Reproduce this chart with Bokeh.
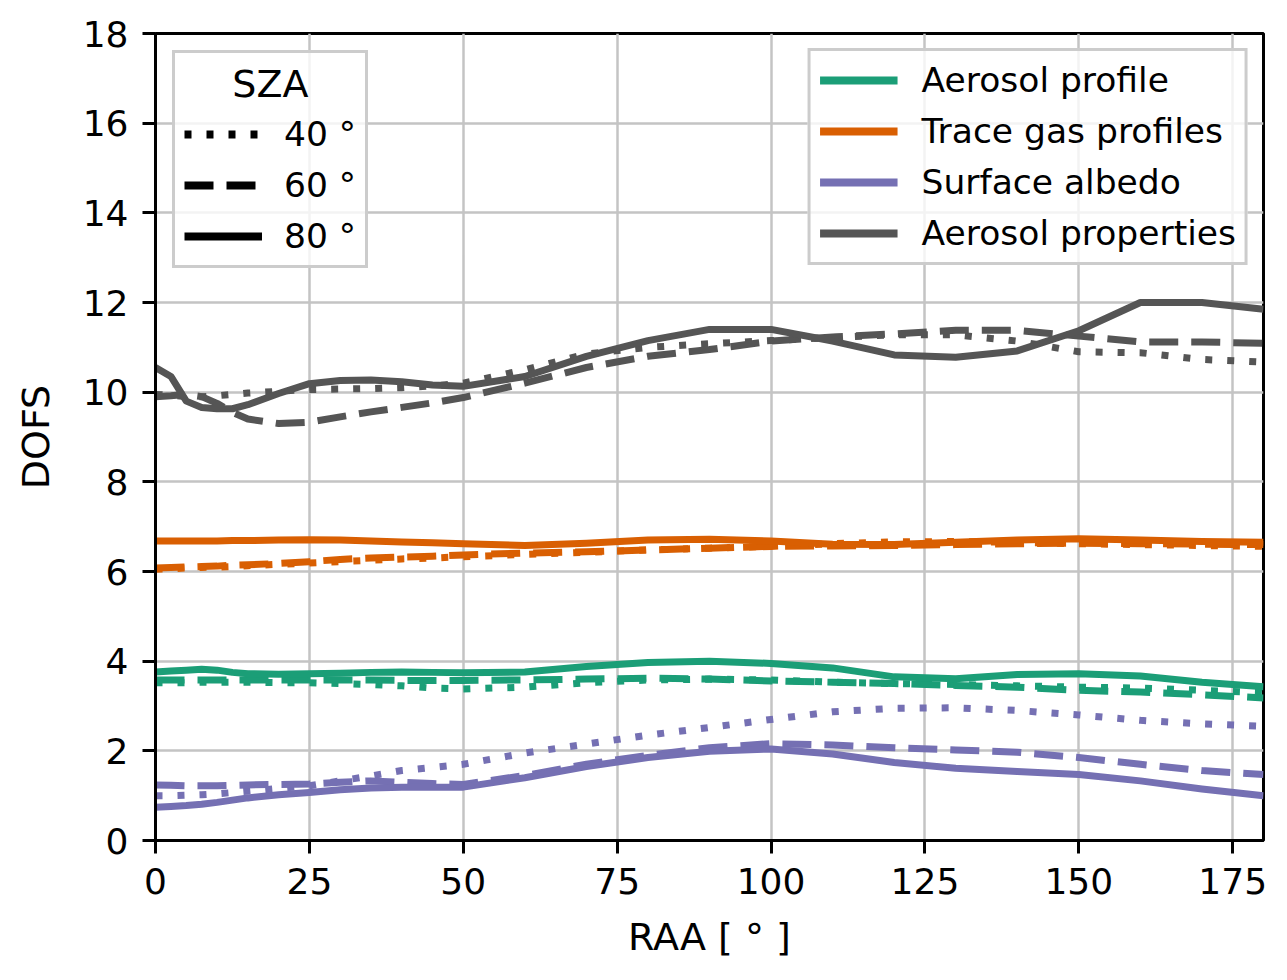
from bokeh.plotting import figure
from bokeh.models import Legend, LegendItem, FixedTicker, Range1d
from bokeh.embed import file_html
from bokeh.resources import INLINE

# relative azimuth angle [deg]
raa = [0, 2.5, 5, 7.5, 10, 12.5, 15, 20, 25, 30, 35, 40, 45, 50, 60, 70, 80,
       90, 100, 110, 120, 130, 140, 150, 160, 170, 180]

# DOFS per retrieved quantity, one list per solar zenith angle
aer_prof_40 = [3.52, 3.52, 3.52, 3.53, 3.53, 3.53, 3.53, 3.52, 3.52, 3.50, 3.48, 3.45, 3.40, 3.38,
               3.42, 3.52, 3.58, 3.60, 3.58, 3.53, 3.50, 3.48, 3.45, 3.42, 3.40, 3.35, 3.30]
aer_prof_60 = [3.58, 3.58, 3.58, 3.58, 3.58, 3.58, 3.58, 3.58, 3.58, 3.58, 3.58, 3.57, 3.57, 3.57,
               3.58, 3.60, 3.62, 3.60, 3.56, 3.53, 3.50, 3.46, 3.42, 3.35, 3.31, 3.25, 3.18]
aer_prof_80 = [3.76, 3.78, 3.80, 3.82, 3.80, 3.75, 3.72, 3.71, 3.72, 3.73, 3.75, 3.76, 3.75, 3.74,
               3.76, 3.88, 3.97, 4.00, 3.95, 3.85, 3.65, 3.61, 3.70, 3.72, 3.67, 3.53, 3.43]

gas_prof_40 = [6.05, 6.06, 6.08, 6.09, 6.10, 6.11, 6.13, 6.16, 6.19, 6.22, 6.25, 6.28, 6.30, 6.33,
               6.38, 6.43, 6.48, 6.52, 6.56, 6.62, 6.66, 6.67, 6.65, 6.62, 6.60, 6.58, 6.56]
gas_prof_60 = [6.08, 6.09, 6.10, 6.11, 6.12, 6.14, 6.15, 6.18, 6.22, 6.27, 6.30, 6.32, 6.34, 6.37,
               6.41, 6.44, 6.48, 6.52, 6.56, 6.57, 6.58, 6.60, 6.62, 6.63, 6.62, 6.61, 6.60]
gas_prof_80 = [6.68, 6.68, 6.68, 6.68, 6.68, 6.69, 6.69, 6.70, 6.71, 6.70, 6.68, 6.66, 6.64, 6.62,
               6.58, 6.63, 6.70, 6.72, 6.68, 6.61, 6.60, 6.65, 6.70, 6.73, 6.70, 6.67, 6.65]

albedo_40 = [1.00, 1.00, 1.01, 1.02, 1.04, 1.07, 1.10, 1.16, 1.22, 1.33, 1.44, 1.56, 1.63, 1.70,
             1.95, 2.15, 2.35, 2.52, 2.70, 2.87, 2.95, 2.96, 2.90, 2.80, 2.68, 2.60, 2.55]
albedo_60 = [1.24, 1.23, 1.22, 1.22, 1.22, 1.23, 1.24, 1.25, 1.26, 1.30, 1.33, 1.30, 1.27, 1.25,
             1.45, 1.70, 1.90, 2.07, 2.16, 2.13, 2.07, 2.02, 1.97, 1.85, 1.70, 1.56, 1.47]
albedo_80 = [0.74, 0.76, 0.78, 0.81, 0.85, 0.90, 0.95, 1.02, 1.07, 1.13, 1.17, 1.19, 1.19, 1.19,
             1.40, 1.65, 1.85, 1.99, 2.04, 1.93, 1.74, 1.61, 1.54, 1.47, 1.33, 1.15, 1.00]

aer_props_40 = [9.95, 9.93, 9.90, 9.90, 9.92, 9.95, 9.98, 10.02, 10.06, 10.07, 10.08, 10.10, 10.14, 10.20,
                10.50, 10.85, 11.00, 11.08, 11.15, 11.22, 11.28, 11.28, 11.14, 10.90, 10.88, 10.73, 10.67]
aer_props_60 = [9.90, 9.92, 9.95, 9.90, 9.75, 9.55, 9.40, 9.30, 9.33, 9.45, 9.56, 9.66, 9.76, 9.88,
                10.20, 10.55, 10.80, 10.95, 11.14, 11.23, 11.30, 11.38, 11.38, 11.25, 11.12, 11.12, 11.09]
aer_props_80 = [10.55, 10.35, 9.80, 9.66, 9.63, 9.63, 9.72, 9.97, 10.19, 10.26, 10.27, 10.23, 10.16, 10.13,
                10.35, 10.80, 11.15, 11.40, 11.40, 11.14, 10.83, 10.78, 10.92, 11.37, 12.00, 12.00, 11.85]

names = ["Aerosol profile", "Trace gas profiles", "Surface albedo", "Aerosol properties"]
colors = ["#1b9e77", "#d95f02", "#7570b3", "#555555"]
sza_labels = ["40 °", "60 °", "80 °"]
dashes = ["7 15", "29 13", "solid"]

series = [
    [aer_prof_40, aer_prof_60, aer_prof_80],
    [gas_prof_40, gas_prof_60, gas_prof_80],
    [albedo_40, albedo_60, albedo_80],
    [aer_props_40, aer_props_60, aer_props_80],
]

FONT = "DejaVu Sans"
LW = 7

p = figure(frame_width=1108, frame_height=807,
           x_range=Range1d(0, 180), y_range=Range1d(0, 18),
           output_backend="svg", toolbar_location=None,
           min_border_left=155, min_border_top=33,
           min_border_right=15, min_border_bottom=122,
           x_axis_label="RAA [ ° ]", y_axis_label="DOFS")

for group, col in zip(series, colors):
    for ys, dash in zip(group, dashes):
        p.line(raa, ys, line_color=col, line_width=LW, line_dash=dash,
               line_join="round", line_cap="butt")

# axes / grid styling
p.xaxis.ticker = FixedTicker(ticks=[0, 25, 50, 75, 100, 125, 150, 175])
p.yaxis.ticker = FixedTicker(ticks=list(range(0, 19, 2)))
for ax in (p.xaxis, p.yaxis):
    ax.axis_line_width = 3
    ax.major_tick_line_width = 3
    ax.major_tick_out = 13
    ax.major_tick_in = 0
    ax.minor_tick_out = 0
    ax.minor_tick_in = 0
    ax.major_label_text_font = FONT
    ax.major_label_text_font_size = "36px"
    ax.major_label_text_color = "black"
    ax.axis_label_text_font = FONT
    ax.axis_label_text_font_size = "38px"
    ax.axis_label_text_font_style = "normal"
    ax.axis_label_text_color = "black"
    ax.major_label_standoff = 14
p.xaxis.axis_label_standoff = 18
p.yaxis.axis_label_standoff = 22

p.grid.grid_line_color = "#c4c4c4"
p.grid.grid_line_width = 2.5
p.outline_line_color = "black"
p.outline_line_width = 3
p.outline_line_alpha = 1

# legend proxies: lines with no drawable points, only shown in the legends
blank = [float("nan")] * len(raa)

color_items = []
for name, col in zip(names, colors):
    r = p.line(raa, blank, line_color=col, line_width=8)
    color_items.append(LegendItem(label=name, renderers=[r]))

sza_items = []
for lab, dash in zip(sza_labels, dashes):
    r = p.line(raa, blank, line_color="black", line_width=8, line_dash=dash, line_cap="butt")
    sza_items.append(LegendItem(label=lab, renderers=[r]))


def style_legend(lg):
    lg.border_line_color = "#cccccc"
    lg.border_line_width = 3
    lg.border_line_alpha = 1
    lg.background_fill_alpha = 0.8
    lg.label_text_font = FONT
    lg.label_text_font_size = "34.5px"
    lg.label_text_color = "black"
    lg.glyph_width = 78
    lg.glyph_height = 40
    lg.label_height = 40
    lg.label_standoff = 24
    lg.spacing = 11
    lg.padding = 9
    lg.margin = 15


leg1 = Legend(items=color_items, location="top_right")
style_legend(leg1)
p.add_layout(leg1)

# title pushed towards the middle of the narrow box with no-break spaces
leg2 = Legend(items=sza_items, location="top_left", title="\u00a0\u00a0\u00a0\u00a0SZA")
style_legend(leg2)
leg2.title_text_font = FONT
leg2.title_text_font_size = "38px"
leg2.title_text_font_style = "normal"
leg2.title_text_color = "black"
leg2.title_standoff = 8
leg2.label_standoff = 22
leg2.margin = 17
p.add_layout(leg2)

open("out.html", "w").write(file_html(p, INLINE))
